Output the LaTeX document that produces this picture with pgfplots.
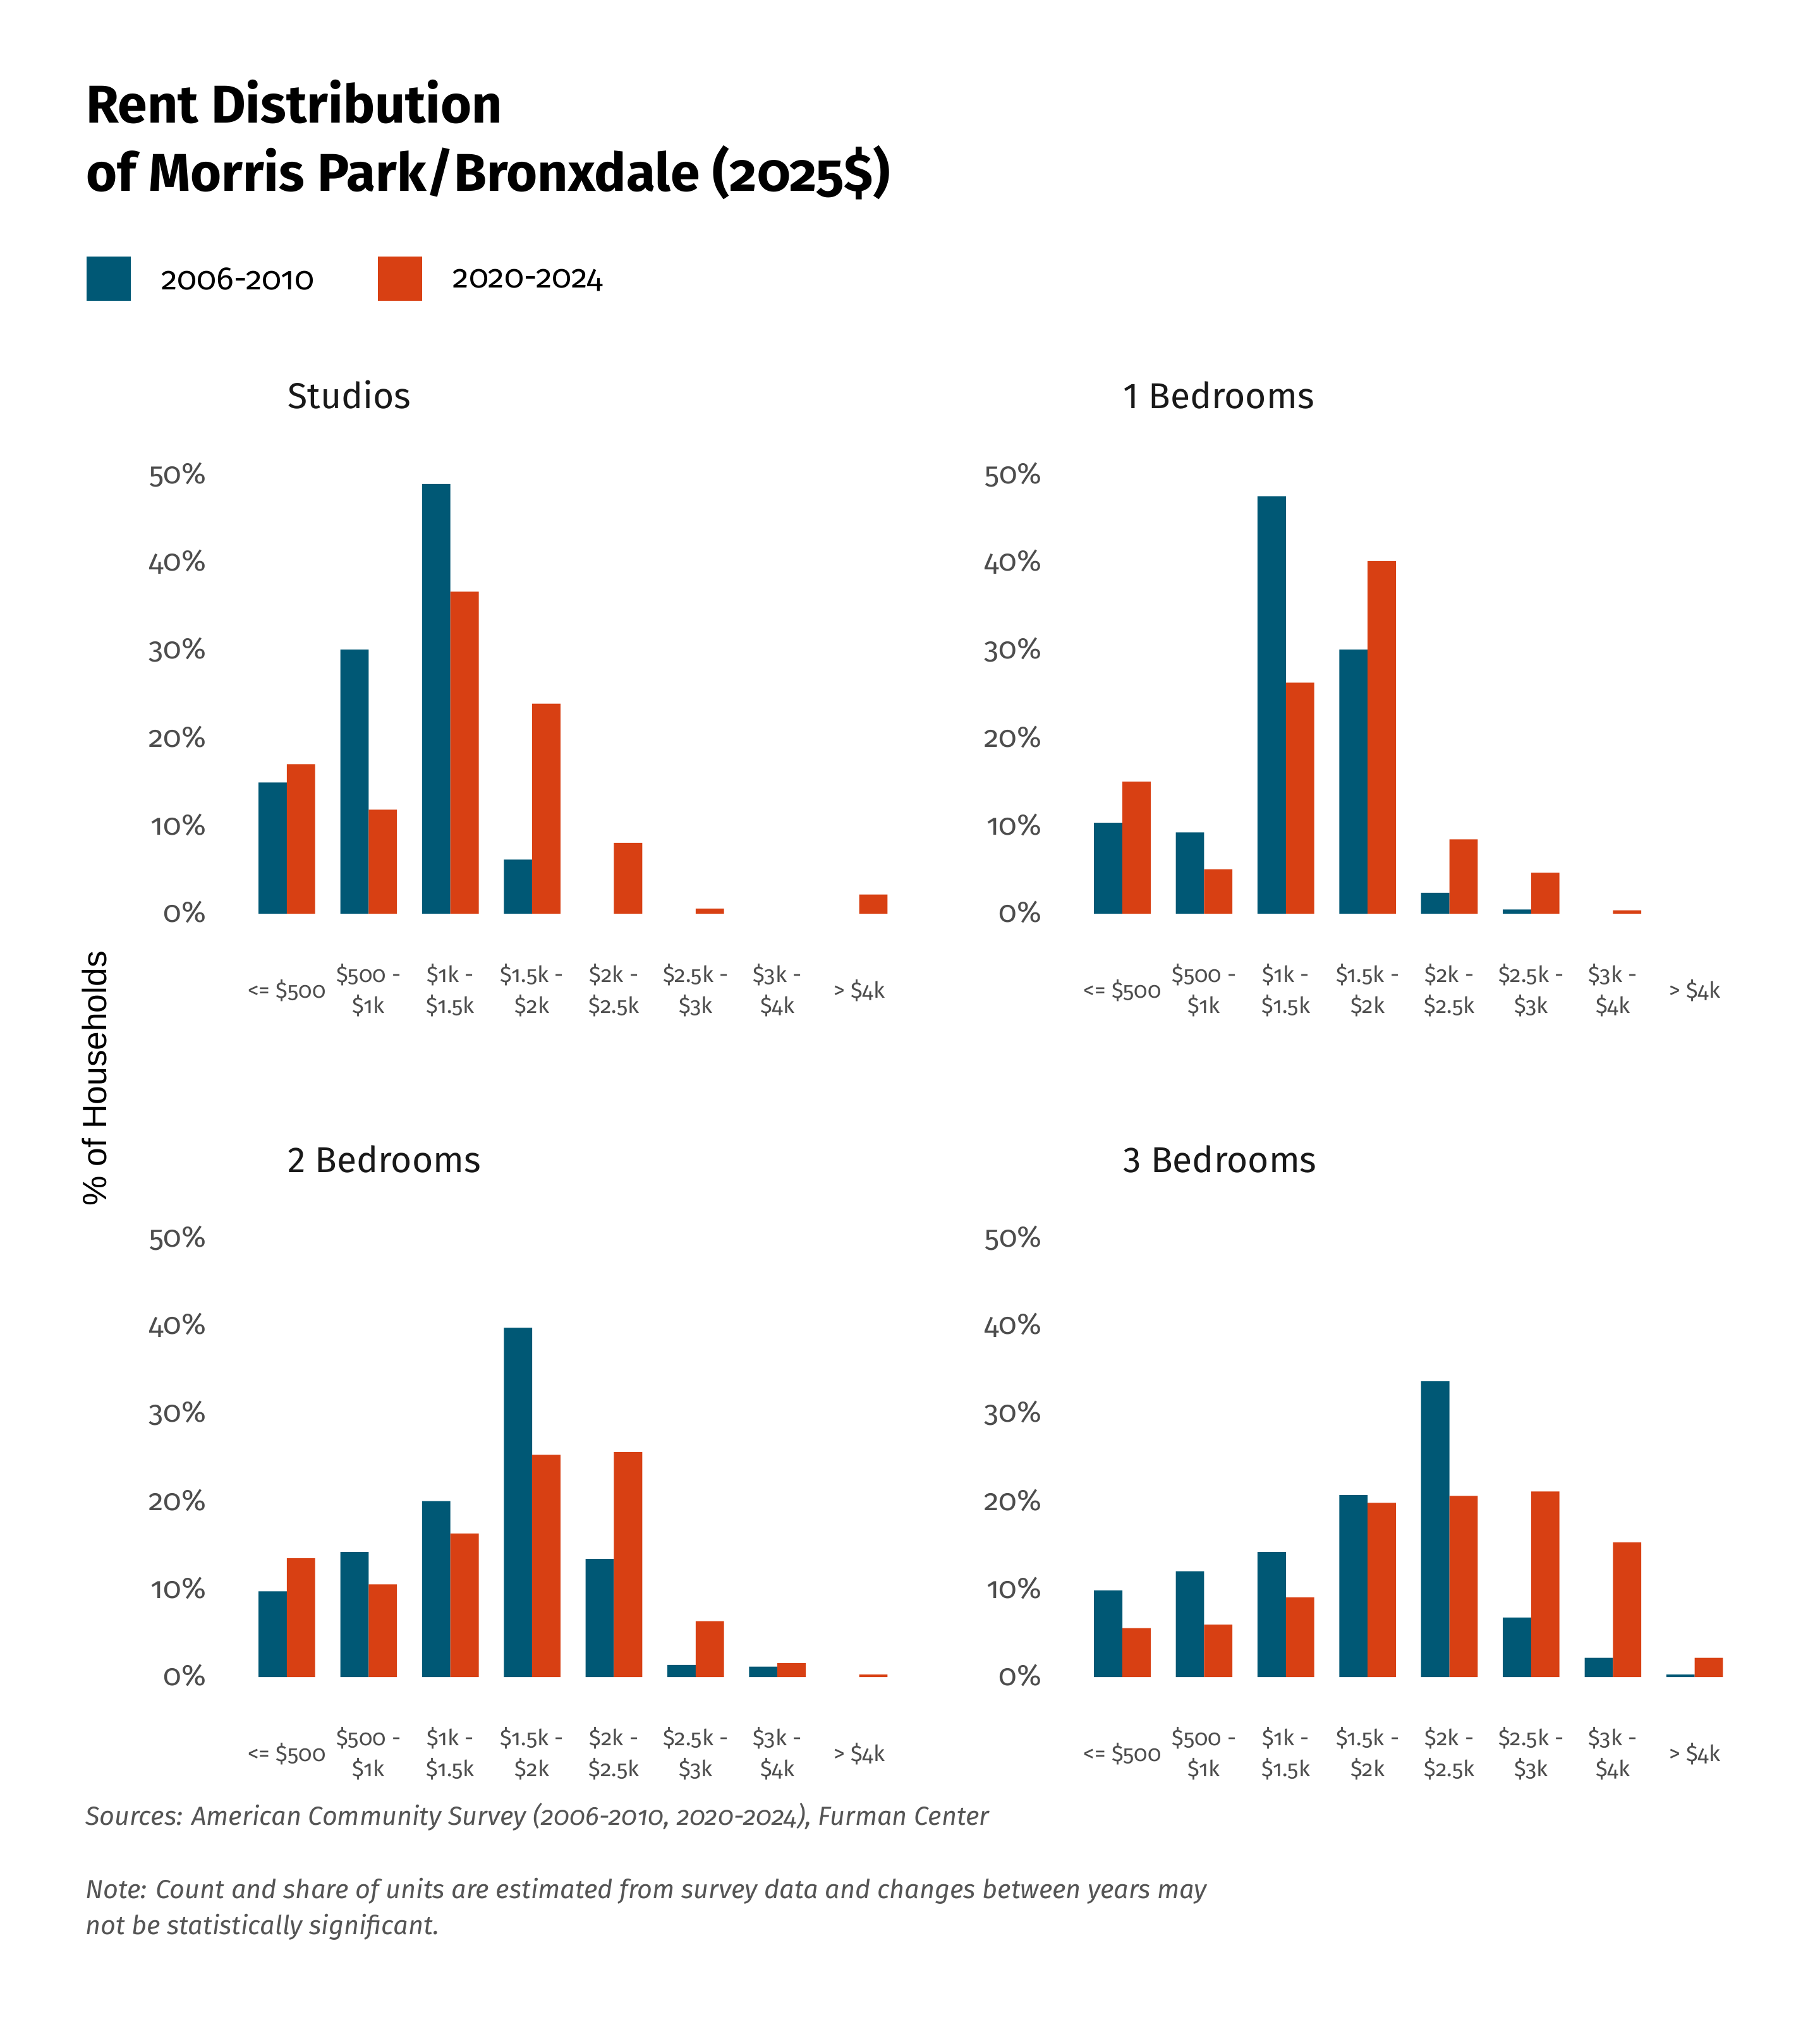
\documentclass[border=0pt]{standalone}
\usepackage{fontspec}
\setmainfont{Fira Sans}[Numbers=OldStyle]
\newfontfamily\arialfont{Liberation Sans}
\usepackage{pgfplots}
\pgfplotsset{compat=1.18}
\usepackage{pgfplotstable}
\definecolor{cblue}{RGB}{0,88,117}
\definecolor{corange}{RGB}{216,64,19}
\definecolor{tickgray}{RGB}{77,77,77}
\definecolor{srcgray}{RGB}{85,85,85}

\pgfplotstableread{
x a b
0 15.0 17.1
1 30.2 11.9
2 49.1 36.8
3 6.2 24.0
4 nan 8.1
5 nan 0.6
6 nan nan
7 nan 2.2
}\studios
\pgfplotstableread{
x a b
0 10.4 15.1
1 9.3 5.1
2 47.7 26.4
3 30.2 40.3
4 2.4 8.5
5 0.5 4.7
6 nan 0.4
7 nan nan
}\oneb
\pgfplotstableread{
x a b
0 9.8 13.6
1 14.3 10.6
2 20.1 16.4
3 39.9 25.4
4 13.5 25.7
5 1.4 6.4
6 1.2 1.6
7 nan 0.3
}\twob
\pgfplotstableread{
x a b
0 9.9 5.6
1 12.1 6.0
2 14.3 9.1
3 20.8 19.9
4 33.8 20.7
5 6.8 21.2
6 2.2 15.4
7 0.3 2.2
}\threeb

\pgfplotsset{panel/.style={
  scale only axis, width=252.3pt, height=168.85pt,
  anchor=south west,
  xmin=-0.5, xmax=7.5, ymin=0, ymax=50,
  ybar, bar width=10.92pt,
  axis line style={draw=none}, tick style={draw=none},
  major tick length=0pt,
  unbounded coords=discard,
  xtick={0,...,7},
  xticklabels={{<= \$500},{\$500 -\\\$1k},{\$1k -\\\$1.5k},{\$1.5k -\\\$2k},{\$2k -\\\$2.5k},{\$2.5k -\\\$3k},{\$3k -\\\$4k},{> \$4k}},
  xticklabel style={anchor=center, yshift=-29.5pt, align=center, font=\fontsize{8.6}{11.75}\selectfont, text=tickgray, inner sep=0pt},
  ytick={0,10,...,50},
  yticklabel={\pgfmathprintnumber{\tick}\%},
  yticklabel style={anchor=east, inner sep=0pt, xshift=-15.1pt, yshift=0.6pt, font=\fontsize{11.5}{13}\selectfont, text=tickgray},
  /pgf/number format/assume math mode=true,
  clip=false,
}}

\begin{document}
\begin{tikzpicture}
\path (0,0) rectangle (702pt,-780pt);

\node[anchor=base west, inner sep=0pt, font=\bfseries\fontsize{20.5}{26}\selectfont] at (33pt,-47.5pt) {Rent Distribution};
\node[anchor=base west, inner sep=0pt, font=\bfseries\fontsize{20.5}{26}\selectfont] at (33pt,-73.8pt) {of Morris Park/Bronxdale (2025\$)};

% Studios
\begin{axis}[panel, at={(94.88pt,-352.5pt)},
  legend columns=2,
  legend cell align=left,
  legend style={at={(-0.2447,1.5028)}, anchor=north west, draw=none, fill=none, inner sep=0pt,
    font=\fontsize{12.5}{14}\selectfont,
    nodes={inner sep=0pt},
    /tikz/every odd column/.append style={column sep=11.9pt},
    /tikz/every even column/.append style={column sep=24.5pt}},
]
\addplot[fill=cblue, draw=none, bar shift=-5.46pt,
  legend image code/.code={\fill[cblue] (0pt,-7.7pt) rectangle (17pt,9.3pt);}] table[x=x,y=a]{\studios};
\addlegendentry{2006-2010}
\addplot[fill=corange, draw=none, bar shift=5.46pt,
  legend image code/.code={\fill[corange] (0pt,-7.7pt) rectangle (17pt,9.3pt);}] table[x=x,y=b]{\studios};
\addlegendentry{2020-2024}
\end{axis}

% 1 Bedrooms
\begin{axis}[panel, at={(417.13pt,-352.5pt)}]
\addplot[fill=cblue, draw=none, bar shift=-5.46pt] table[x=x,y=a]{\oneb};
\addplot[fill=corange, draw=none, bar shift=5.46pt] table[x=x,y=b]{\oneb};
\end{axis}

% 2 Bedrooms
\begin{axis}[panel, at={(94.88pt,-646.95pt)}]
\addplot[fill=cblue, draw=none, bar shift=-5.46pt] table[x=x,y=a]{\twob};
\addplot[fill=corange, draw=none, bar shift=5.46pt] table[x=x,y=b]{\twob};
\end{axis}

% 3 Bedrooms
\begin{axis}[panel, at={(417.13pt,-646.95pt)}]
\addplot[fill=cblue, draw=none, bar shift=-5.46pt] table[x=x,y=a]{\threeb};
\addplot[fill=corange, draw=none, bar shift=5.46pt] table[x=x,y=b]{\threeb};
\end{axis}

\begin{scope}[every node/.style={anchor=base west, inner sep=0pt, font=\addfontfeatures{Numbers=Lining}\fontsize{13.9}{16}\selectfont, text=black!90}]
\node at (110.8pt,-157.7pt) {Studios};
\node at (433.1pt,-157.7pt) {1 Bedrooms};
\node at (110.8pt,-452.15pt) {2 Bedrooms};
\node at (433.1pt,-452.15pt) {3 Bedrooms};
\end{scope}

\node[rotate=90, inner sep=0pt, font=\arialfont\fontsize{13}{15}\selectfont] at (36.5pt,-416pt) {\% of Households};

\begin{scope}[every node/.style={anchor=base west, inner sep=0pt, font=\itshape\fontsize{10.1}{14}\selectfont, text=srcgray}]
\node at (32.75pt,-704.15pt) {Sources: American Community Survey (2006-2010, 2020-2024), Furman Center};
\node at (32.75pt,-732.25pt) {Note: Count and share of units are estimated from survey data and changes between years may};
\node at (32.75pt,-746.25pt) {not be statistically significant.};
\end{scope}

\pgfresetboundingbox
\path (0,0) rectangle (702pt,-780pt);
\end{tikzpicture}
\end{document}
